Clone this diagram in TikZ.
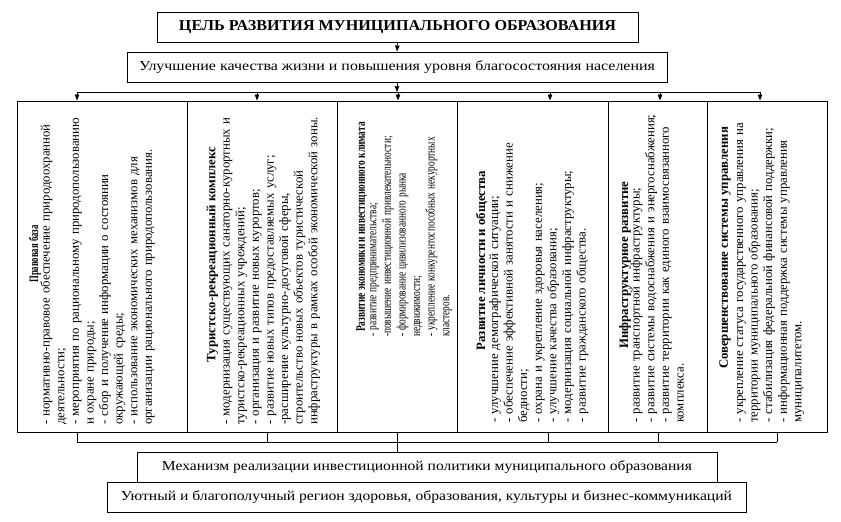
\documentclass[tikz,border=0pt]{standalone}
\usepackage{fontspec}
\setmainfont{Liberation Serif}
\usetikzlibrary{arrows.meta}
\setlength{\parindent}{0pt}
\newcommand{\colfont}{\fontsize{12.8}{14.6}\selectfont}
\newcommand{\jl}[2]{\makebox[#1][s]{#2}}
\begin{document}
\begin{tikzpicture}[x=1pt,y=-1pt,
  frame/.style={draw, line width=1pt, inner sep=0pt},
  arr/.style={-{Triangle[length=6pt,width=4.5pt]}, line width=0.7pt},
  link/.style={line width=0.7pt},
  colbody/.style={rotate=90, anchor=base west, inner sep=0pt, align=left, text width=335pt, font=\colfont},
  colhead/.style={rotate=90, anchor=center, inner sep=0pt, font=\colfont\bfseries},
  narrow/.style={xscale=0.73}]
\fill[white] (0,0) rectangle (841,522);
\useasboundingbox (0,0) rectangle (841,522);

% top boxes
\node[frame, minimum width=481pt, minimum height=30pt] (goal) at (397.5,27)
  {\resizebox{437pt}{10pt}{\bfseries ЦЕЛЬ РАЗВИТИЯ МУНИЦИПАЛЬНОГО ОБРАЗОВАНИЯ}};
\node[frame, minimum width=540pt, minimum height=30pt] (sub) at (397,67)
  {\resizebox{516pt}{9.8pt}{Улучшение качества жизни и повышения уровня благосостояния населения}};

% columns
\node[frame, minimum width=170pt, minimum height=331pt] (c1) at (102,266.5) {};
\node[frame, minimum width=150pt, minimum height=331pt] (c2) at (262,266.5) {};
\node[frame, minimum width=120pt, minimum height=331pt] (c3) at (397,266.5) {};
\node[frame, minimum width=151pt, minimum height=331pt] (c4) at (532.5,266.5) {};
\node[frame, minimum width=99pt, minimum height=331pt] (c5) at (657.5,266.5) {};
\node[frame, minimum width=120pt, minimum height=331pt] (c6) at (767,266.5) {};

% bottom boxes
\node[frame, minimum width=580pt, minimum height=30pt] (mech) at (427,467)
  {\resizebox{530pt}{9.8pt}{Механизм реализации инвестиционной политики муниципального образования}};
\node[frame, minimum width=639pt, minimum height=30pt] (res) at (426.5,497)
  {\resizebox{611pt}{9.8pt}{Уютный и благополучный регион здоровья, образования, культуры и бизнес-коммуникаций}};

% column texts
\node[colhead, xscale=0.68] (h1) at (35,254) {Правовая база};
\node[colbody] (t1) at (49.7,425) {%
\jl{308pt}{- нормативно-правовое обеспечение природоохранной}\\
деятельности;\\
- мероприятия по рациональному природопользованию\\
и охране природы;\\
- сбор и получение информации о состоянии\\
окружающей среды;\\
\jl{277pt}{- использование экономических механизмов для}\\
организации рационального природопользования.};

\node[colhead] (h2) at (212.3,254.5) {Туристско-рекреационный комплекс};
\node[colbody] (t2) at (229.7,425) {%
\jl{312pt}{- модернизация существующих санаторно-курортных и}\\
туристско-рекреационных учреждений;\\
- организация и развитие новых курортов;\\
- развитие новых типов предоставляемых услуг;\\
-расширение культурно-досуговой сферы,\\
строительство новых объектов туристической\\
инфраструктуры в рамках особой экономической зоны.};

\node[colhead, narrow] (h3) at (361.7,227) {Развитие экономики и инвестиционного климата};
\node[colbody, narrow] (t3) at (376.3,337) {%
- развитие предпринимательства;\\
-повышение инвестиционной привлекательности;\\
- формирование цивилизованного рынка\\
недвижимости;\\
- укрепление конкурентоспособных некурортных\\
кластеров.};

\node[colhead] (h4) at (481.7,260.5) {Развитие личности и общества};
\node[colbody] (t4) at (498,423) {%
- улучшение демографической ситуации;\\
- обеспечение эффективной занятости и снижение\\
бедности;\\
- охрана и укрепление здоровья населения;\\
- улучшение качества образования;\\
- модернизация социальной инфраструктуры;\\
- развитие гражданского общества.};

\node[colhead] (h5) at (625,265) {Инфраструктурное развитие};
\node[colbody] (t5) at (639.7,423) {%
- развитие транспортной инфраструктуры;\\
- развитие системы водоснабжения и энергоснабжения;\\
\jl{310pt}{- развитие территории как единого взаимосвязанного}\\
комплекса.};

\node[colhead] (h6) at (725,248) {Совершенствование системы управления};
\node[colbody] (t6) at (743,423) {%
\jl{315pt}{- укрепление статуса государственного управления на}\\
территории муниципального образования;\\
- стабилизация федеральной финансовой поддержки;\\
\jl{315pt}{- информационная поддержка системы управления}\\
муниципалитетом.};

% connectors top
\draw[arr] (goal.south) -- (sub.north);
\coordinate (bus) at (397,92);
\coordinate (b1) at (77,92);
\coordinate (b2) at (257,92);
\coordinate (b3) at (398,92);
\coordinate (b4) at (550,92);
\coordinate (b5) at (660,92);
\coordinate (b6) at (760,92);
\draw[arr] (sub.south) -- (bus);
\draw[link] (b1) -- (b6);
\draw[arr] (b1) -- (b1 |- c1.north);
\draw[arr] (b2) -- (b2 |- c2.north);
\draw[arr] (b3) -- (b3 |- c3.north);
\draw[arr] (b4) -- (b4 |- c4.north);
\draw[arr] (b5) -- (b5 |- c5.north);
\draw[arr] (b6) -- (b6 |- c6.north);

% connectors bottom
\coordinate (k1) at (77,442);
\coordinate (k2) at (267,442);
\coordinate (k3) at (397,442);
\coordinate (k4) at (548,442);
\coordinate (k5) at (658,442);
\coordinate (k6) at (777,442);
\draw[link] (k1) -- (k6);
\draw[link] (k1 |- c1.south) -- (k1);
\draw[link] (k2 |- c2.south) -- (k2);
\draw[link] (k3 |- c3.south) -- (k3 |- mech.north);
\draw[link] (k4 |- c4.south) -- (k4);
\draw[link] (k5 |- c5.south) -- (k5);
\draw[link] (k6 |- c6.south) -- (k6);
\end{tikzpicture}
\end{document}
